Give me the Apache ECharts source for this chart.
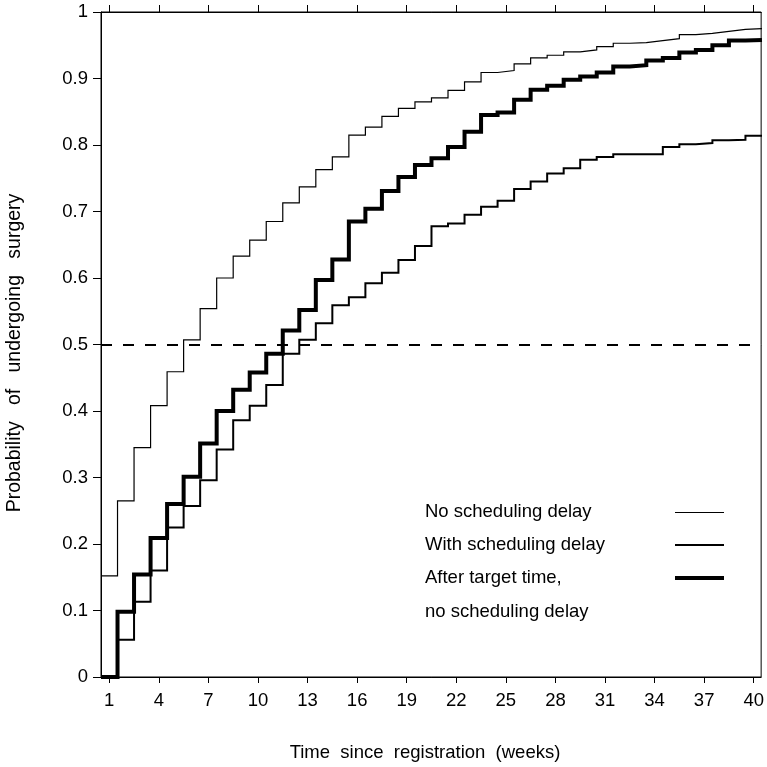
<!DOCTYPE html>
<html>
<head>
<meta charset="utf-8">
<script src="https://cdn.jsdelivr.net/npm/echarts@6/dist/echarts.min.js"></script>
<style>html,body{margin:0;padding:0;background:#fff;}#c{width:767px;height:767px;}</style>
</head>
<body>
<div id="c"></div>
<script>
// ---- Data ----
var weeks = [1,2,3,4,5,6,7,8,9,10,11,12,13,14,15,16,17,18,19,20,21,22,23,24,25,26,27,28,29,30,31,32,33,34,35,36,37,38,39,40];
var xTickLabels = [1,4,7,10,13,16,19,22,25,28,31,34,37,40];
var noDelay = [0.152,0.265,0.345,0.408,0.459,0.507,0.554,0.600,0.633,0.657,0.685,0.713,0.737,0.763,0.782,0.815,0.827,0.843,0.855,0.865,0.871,0.882,0.895,0.909,0.912,0.922,0.931,0.935,0.940,0.943,0.948,0.953,0.954,0.957,0.960,0.966,0.968,0.971,0.974,0.975];
var withDelay = [0,0.056,0.113,0.160,0.225,0.257,0.296,0.342,0.386,0.408,0.439,0.486,0.507,0.532,0.559,0.571,0.592,0.608,0.627,0.648,0.678,0.682,0.695,0.707,0.716,0.734,0.745,0.757,0.765,0.778,0.782,0.786,0.786,0.786,0.797,0.801,0.803,0.807,0.808,0.814];
var afterTarget = [0,0.098,0.154,0.209,0.260,0.301,0.351,0.400,0.432,0.458,0.486,0.521,0.552,0.597,0.628,0.685,0.704,0.731,0.752,0.770,0.780,0.797,0.820,0.845,0.849,0.868,0.883,0.889,0.898,0.903,0.909,0.918,0.920,0.927,0.931,0.939,0.943,0.950,0.957,0.958];
var referenceLevel = 0.5;
var seriesNames = ['No scheduling delay','With scheduling delay','After target time,\nno scheduling delay'];
var xTitle = 'Time  since  registration  (weeks)';
var yTitle = 'Probability   of   undergoing   surgery';

// Step data: each week's value holds from week-0.5 to week+0.5
function stepData(vals){
  var d = weeks.map(function(w,i){ return [w-0.5, vals[i]]; });
  d.push([weeks[weeks.length-1]+0.5, vals[vals.length-1]]);
  return d;
}

var FONT = '"Liberation Sans", Arial, Helvetica, sans-serif';
var FS = 18.5;
var chart = echarts.init(document.getElementById('c'), null, {renderer:'canvas'});
var XMIN = 0.5, XMAX = 40.45;

var lineWidths = [1.2, 2, 4];
var legendWidths = [1, 2, 4];
var datasets = [noDelay, withDelay, afterTarget];

var series = datasets.map(function(vals, i){
  return {
    name: seriesNames[i], type:'line', step:'end', symbol:'none',
    data: stepData(vals), clip:true,
    lineStyle:{color:'#000', width: lineWidths[i], join:'miter', cap:'butt'},
    z: 3 + i
  };
});
series[0].markLine = {
  silent:true, symbol:['none','none'], label:{show:false},
  lineStyle:{color:'#000', type:[11,11], width:2},
  data:[{yAxis: referenceLevel}]
};

var legendX0 = 675, legendX1 = 724, legendTextX = 425;
var legendRows = [512, 545, 578, 612];
var graphics = [];
var row = 0;
seriesNames.forEach(function(n, i){
  var y = legendRows[row];
  var off = (legendWidths[i] % 2 === 1) ? 0.5 : 0;
  graphics.push({type:'line', shape:{x1:legendX0, y1:y+off, x2:legendX1, y2:y+off}, style:{stroke:'#000', lineWidth: legendWidths[i]}});
  n.split('\n').forEach(function(part){
    graphics.push({type:'text', x: legendTextX, y: legendRows[row], style:{text:part, font:FS+'px '+FONT, fill:'#000', align:'left', verticalAlign:'middle'}});
    row++;
  });
});
graphics.push({type:'text', x:425, y:753, style:{text:xTitle, font:FS+'px '+FONT, fill:'#000', align:'center', verticalAlign:'middle'}});
graphics.push({type:'text', x:15, y:353, rotation:Math.PI/2, style:{text:yTitle, font:'19.5px '+FONT, fill:'#000', align:'center', verticalAlign:'middle'}});

chart.setOption({
  animation:false,
  backgroundColor:'#fff',
  grid:{left:101, right:1, top:12, bottom:90, show:true, borderColor:'#000', borderWidth:1},
  xAxis:[{
    type:'value', position:'bottom', min:XMIN, max:XMAX,
    axisLine:{show:true, onZero:false, lineStyle:{color:'#000', width:1}},
    axisTick:{show:true, inside:false, length:6, customValues:xTickLabels, lineStyle:{color:'#000'}},
    axisLabel:{show:true, margin:14, customValues:xTickLabels, color:'#000', fontSize:FS, fontFamily:FONT},
    splitLine:{show:false}
  },{
    type:'value', position:'top', min:XMIN, max:XMAX,
    axisLine:{show:true, onZero:false, lineStyle:{color:'#000', width:1}},
    axisTick:{show:true, inside:false, length:7, customValues:xTickLabels, lineStyle:{color:'#000'}},
    axisLabel:{show:false},
    splitLine:{show:false}
  }],
  yAxis:{
    type:'value', min:0, max:1, interval:0.1,
    axisLine:{show:true, lineStyle:{color:'#000', width:1}},
    axisTick:{show:true, length:8, lineStyle:{color:'#000'}},
    axisLabel:{margin:13, color:'#000', fontSize:FS, fontFamily:FONT,
      formatter:function(v){ return String(Math.round(v*10)/10); }},
    splitLine:{show:false}
  },
  series: series,
  graphic: graphics
});
</script>
</body>
</html>
